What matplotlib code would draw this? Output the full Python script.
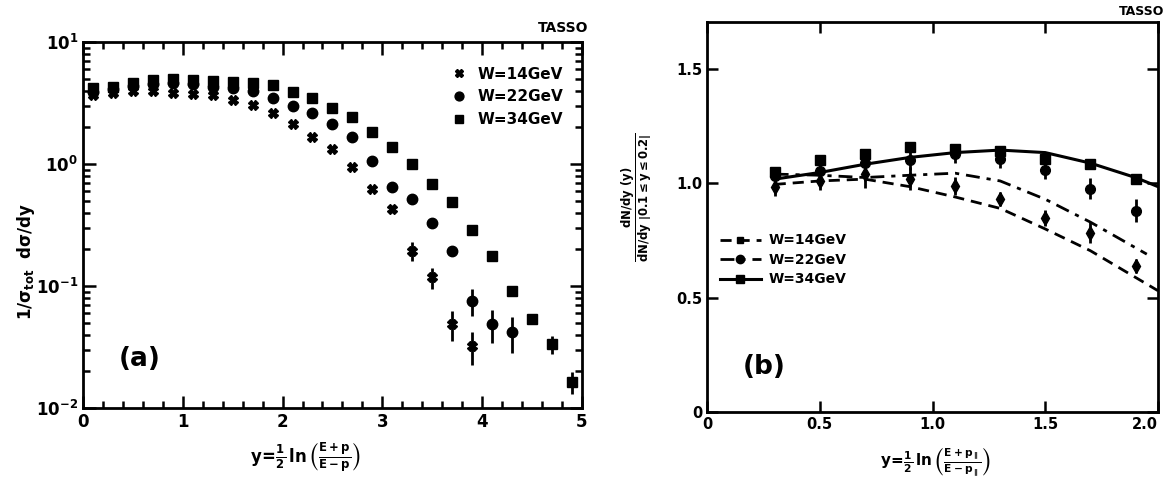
import matplotlib
matplotlib.use("Agg")
import matplotlib.pyplot as plt
from matplotlib.lines import Line2D
import numpy as np

plt.rcParams['font.family'] = ['DejaVu Sans']
plt.rcParams['font.weight'] = 'bold'
plt.rcParams['mathtext.fontset'] = 'dejavusans'
plt.rcParams['mathtext.default'] = 'bf'

# ---------------- Panel (a) data ----------------
x14 = [0.1, 0.3, 0.5, 0.7, 0.9, 1.1, 1.3, 1.5, 1.7, 1.9, 2.1, 2.3, 2.5, 2.7, 2.9, 3.1, 3.3, 3.5, 3.7, 3.9]
v14 = [3.7, 3.85, 3.95, 3.95, 3.85, 3.75, 3.66, 3.35, 3.05, 2.63, 2.13, 1.67, 1.32, 0.95, 0.62, 0.43, 0.195, 0.118, 0.049, 0.032]
e14 = [0, 0, 0, 0, 0, 0, 0, 0, 0, 0, 0, 0, 0, 0, 0, 0.08, 0.17, 0.2, 0.28, 0.3]

x22 = [0.1, 0.3, 0.5, 0.7, 0.9, 1.1, 1.3, 1.5, 1.7, 1.9, 2.1, 2.3, 2.5, 2.7, 2.9, 3.1, 3.3, 3.5, 3.7, 3.9, 4.1, 4.3]
v22 = [3.9, 4.1, 4.35, 4.55, 4.6, 4.5, 4.3, 4.2, 4.0, 3.5, 3.0, 2.6, 2.13, 1.66, 1.06, 0.65, 0.52, 0.33, 0.195, 0.076, 0.049, 0.042]
e22 = [0, 0, 0, 0, 0, 0, 0, 0, 0, 0, 0, 0, 0, 0, 0, 0, 0, 0.1, 0.05, 0.25, 0.3, 0.33]

x34 = [0.1, 0.3, 0.5, 0.7, 0.9, 1.1, 1.3, 1.5, 1.7, 1.9, 2.1, 2.3, 2.5, 2.7, 2.9, 3.1, 3.3, 3.5, 3.7, 3.9, 4.1, 4.3, 4.5, 4.7, 4.9]
v34 = [4.2, 4.3, 4.6, 4.9, 4.95, 4.9, 4.8, 4.7, 4.6, 4.45, 3.9, 3.5, 2.9, 2.45, 1.84, 1.39, 1.01, 0.69, 0.49, 0.29, 0.176, 0.091, 0.054, 0.0335, 0.0164]
e34 = [0, 0, 0, 0, 0, 0, 0, 0, 0, 0, 0, 0, 0, 0, 0, 0, 0, 0, 0, 0, 0, 0, 0.08, 0.17, 0.2]

labels = ["W=14GeV", "W=22GeV", "W=34GeV"]

# ---------------- Panel (b) data ----------------
xr = [0.3, 0.5, 0.7, 0.9, 1.1, 1.3, 1.5, 1.7, 1.9]
r34 = [1.05, 1.10, 1.127, 1.157, 1.15, 1.142, 1.108, 1.083, 1.017]
r34e = [0.015, 0.02, 0.02, 0.02, 0.02, 0.02, 0.02, 0.015, 0.015]
r22 = [1.03, 1.055, 1.09, 1.10, 1.13, 1.105, 1.058, 0.977, 0.879]
r22e = [0.03, 0.03, 0.04, 0.04, 0.04, 0.04, 0.04, 0.045, 0.05]
r14 = [0.985, 1.01, 1.04, 1.02, 0.988, 0.93, 0.85, 0.784, 0.637]
r14e = [0.04, 0.04, 0.06, 0.05, 0.04, 0.03, 0.035, 0.045, 0.03]

c34_x = [0.3, 0.5, 0.7, 0.9, 1.1, 1.3, 1.5, 1.7, 1.9, 2.0]
c34 = [1.018, 1.047, 1.083, 1.113, 1.134, 1.145, 1.134, 1.088, 1.025, 0.985]
c22_x = [0.3, 0.5, 0.7, 0.9, 1.1, 1.3, 1.5, 1.7, 1.95]
c22 = [1.04, 1.035, 1.025, 1.035, 1.044, 1.01, 0.93, 0.83, 0.69]
c14_x = [0.3, 0.5, 0.7, 0.9, 1.1, 1.3, 1.5, 1.7, 2.0]
c14 = [0.995, 1.01, 1.018, 0.985, 0.94, 0.89, 0.80, 0.705, 0.53]

xticks_b = [0, 0.5, 1.0, 1.5, 2.0]
xticklabels_b = ["0", "0.5", "1.0", "1.5", "2.0"]
yticks_b = [0, 0.5, 1.0, 1.5]
yticklabels_b = ["0", "0.5", "1.0", "1.5"]

fig = plt.figure(figsize=(11.7, 4.79), dpi=100)
axa = fig.add_axes([0.0709, 0.1482, 0.4265, 0.764])
axb = fig.add_axes([0.6043, 0.1399, 0.3855, 0.8142])

# ---------- Panel (a) ----------
def rel(v, e):
    return np.array(v) * np.array(e)

mk_a = [('X', 6.5), ('o', 7.5), ('s', 7.5)]
for (xs, vs, es), (m, ms) in zip([(x14, v14, e14), (x22, v22, e22), (x34, v34, e34)], mk_a):
    axa.errorbar(xs, vs, yerr=rel(vs, es), fmt=m, ms=ms, color='black',
                 elinewidth=2, capsize=0)
axa.set_yscale('log')
axa.set_xlim(0, 5)
axa.set_ylim(1e-2, 1e1)
axa.set_xticks([0, 1, 2, 3, 4, 5])
axa.set_xticks(np.arange(0, 5.01, 0.2), minor=True)
axa.tick_params(which='both', direction='in', top=True, right=True, width=1.8, labelsize=12)
axa.tick_params(which='major', length=9)
axa.tick_params(which='minor', length=5)
for s in axa.spines.values():
    s.set_linewidth(2)
axa.set_ylabel(r"$1/\sigma_{tot}\ \ d\sigma/dy$", fontsize=12)
axa.yaxis.set_label_coords(-0.092, 0.40)
axa.set_xlabel(r"$y\!=\!\frac{1}{2}\,\ln\left(\frac{E+p}{E-p}\right)$", fontsize=12)
axa.xaxis.set_label_coords(0.445, -0.09)
axa.text(0.072, 0.134, "(a)", transform=axa.transAxes, fontsize=19,
         fontweight='bold', ha='left', va='center')
handles_a = [Line2D([], [], ls='none', marker=m, ms=ms * 0.85, color='black') for m, ms in mk_a]
axa.legend(handles_a, labels, loc='upper right', bbox_to_anchor=(0.99, 0.97), frameon=False,
           fontsize=11, handletextpad=0.6, labelspacing=0.5, handlelength=1.2)
fig.text(0.481, 0.941, "TASSO", fontsize=10, fontweight='bold', ha='center', va='center')

# ---------- Panel (b) ----------
axb.plot(c14_x, c14, color='black', lw=2, ls=(0, (4, 2.5)))
axb.plot(c22_x, c22, color='black', lw=2, ls=(0, (5, 2.5, 1.5, 2.5)))
axb.plot(c34_x, c34, color='black', lw=2.2, ls='-')
axb.errorbar(xr, r14, yerr=r14e, fmt='d', ms=7, color='black', elinewidth=2, capsize=0)
axb.errorbar(xr, r22, yerr=r22e, fmt='o', ms=7, color='black', elinewidth=2, capsize=0)
axb.errorbar(xr, r34, yerr=r34e, fmt='s', ms=7, color='black', elinewidth=2, capsize=0)
axb.set_xlim(0, 2.0)
axb.set_ylim(0, 1.705)
axb.set_xticks(xticks_b)
axb.set_xticklabels(xticklabels_b)
axb.set_yticks(yticks_b)
axb.set_yticklabels(yticklabels_b)
axb.tick_params(which='both', direction='in', top=True, right=True, width=1.8,
                length=8, labelsize=10.5)
axb.get_xticklabels()[-1].set_horizontalalignment('right')
for s in axb.spines.values():
    s.set_linewidth(2)
axb.set_ylabel(r"$\frac{dN/dy\ (y)}{dN/dy\ \left|0.1\leq y\leq 0.2\right|}$", fontsize=12)
axb.yaxis.set_label_coords(-0.115, 0.55)
axb.set_xlabel(r"$y\!=\!\frac{1}{2}\,\ln\left(\frac{E+p_{\parallel}}{E-p_{\parallel}}\right)$", fontsize=11)
axb.xaxis.set_label_coords(0.505, -0.085)
axb.text(0.08, 0.115, "(b)", transform=axb.transAxes, fontsize=19,
         fontweight='bold', ha='left', va='center')
handles = [
    Line2D([0, 1], [0, 0], color='black', lw=2, ls=(0, (4, 2.5)), marker='s', ms=4, markevery=[1]),
    Line2D([0, 1], [0, 0], color='black', lw=2, ls=(0, (5, 2.5, 1.5, 2.5)), marker='o', ms=6, markevery=[1]),
    Line2D([0, 1], [0, 0], color='black', lw=2.2, ls='-', marker='s', ms=6, markevery=[1]),
]
axb.legend(handles, labels, loc='upper left', bbox_to_anchor=(0.0, 0.49), frameon=False,
           fontsize=10, handlelength=3, handletextpad=0.5, labelspacing=0.4)
fig.text(0.995, 0.975, "TASSO", fontsize=9, fontweight='bold', ha='right', va='center')

fig.savefig("out.png", dpi=100)
